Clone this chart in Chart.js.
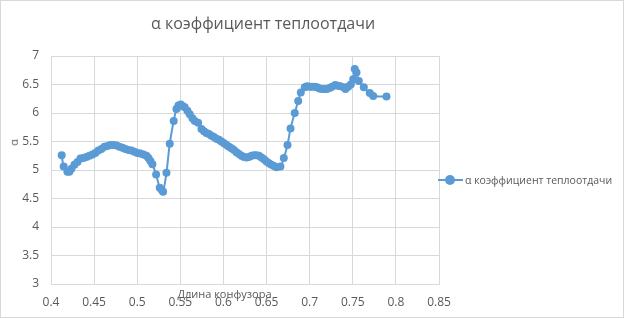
<!DOCTYPE html>
<html>
<head>
<meta charset="utf-8">
<script src="https://cdn.jsdelivr.net/npm/chart.js@4/dist/chart.umd.min.js"></script>
<style>
  html, body { margin: 0; padding: 0; background: #fff; }
  #wrap {
    position: relative; width: 624px; height: 318px;
    box-sizing: border-box; border: 1px solid #d9d9d9;
    font-family: "Open Sans", "Liberation Sans", sans-serif; color: #595959;
  }
  #chart { position: absolute; left: 0; top: 0; }
  .title { position: absolute; left: 150px; width: 205px; top: 11px; text-align: center; font-size: 16px; white-space: nowrap; }
  .xTitle { position: absolute; left: 161px; width: 125px; top: 285px; text-align: center; font-size: 11px; white-space: nowrap; }
  .yTitle { position: absolute; left: 9px; top: 134px; font-size: 11px; transform: rotate(-90deg); }
  .legend { position: absolute; left: 437px; top: 171px; font-size: 10.5px; white-space: nowrap; display: flex; align-items: center; }
  .legend .mark { position: relative; width: 25px; height: 16px; margin-right: 2px; }
  .legend .mark .ln { position: absolute; left: 0; right: 0; top: 7px; height: 2px; background: #5b9bd5; }
  .legend .mark .dot { position: absolute; left: 7px; top: 3px; width: 10px; height: 10px; border-radius: 50%; background: #5b9bd5; }
</style>
</head>
<body>
<div id="wrap">
  <canvas id="chart" width="622" height="316"></canvas>
  <div class="title">α коэффициент теплоотдачи</div>
  <div class="yTitle">α</div>
  <div class="xTitle">Длина конфузора</div>
  <div class="legend"><span class="mark"><span class="ln"></span><span class="dot"></span></span>α коэффициент теплоотдачи</div>
</div>
<script>
// длина конфузора
const lengths = [
  0.4124, 0.4147, 0.4190, 0.4213, 0.4237, 0.4272, 0.4307, 0.4341, 0.4376, 0.4411,
  0.4446, 0.4481, 0.4515, 0.4550, 0.4585, 0.4620, 0.4655, 0.4689, 0.4724, 0.4759,
  0.4794, 0.4829, 0.4863, 0.4898, 0.4933, 0.4968, 0.5002, 0.5037, 0.5072, 0.5107,
  0.5130, 0.5153, 0.5176, 0.5219, 0.5261, 0.5285, 0.5300, 0.5339, 0.5377, 0.5423,
  0.5455, 0.5478, 0.5505, 0.5530, 0.5551, 0.5582, 0.5609, 0.5640, 0.5667, 0.5706,
  0.5745, 0.5774, 0.5803, 0.5832, 0.5861, 0.5890, 0.5919, 0.5948, 0.5977, 0.6006,
  0.6035, 0.6064, 0.6093, 0.6122, 0.6151, 0.6180, 0.6209, 0.6238, 0.6267, 0.6296,
  0.6325, 0.6354, 0.6383, 0.6412, 0.6441, 0.6470, 0.6499, 0.6528, 0.6557, 0.6586,
  0.6615, 0.6661, 0.6700, 0.6743, 0.6778, 0.6827, 0.6867, 0.6897, 0.6943, 0.6969,
  0.7001, 0.7027, 0.7059, 0.7085, 0.7114, 0.7143, 0.7172, 0.7201, 0.7230, 0.7259,
  0.7297, 0.7326, 0.7356, 0.7395, 0.7415, 0.7447, 0.7477, 0.7505, 0.7523, 0.7543,
  0.7570, 0.7628, 0.7697, 0.7737, 0.7891
];
// α коэффициент теплоотдачи
const alpha = [
  5.26, 5.06, 4.97, 4.97, 5.02, 5.09, 5.14, 5.20, 5.21, 5.23,
  5.25, 5.27, 5.30, 5.34, 5.37, 5.41, 5.42, 5.44, 5.44, 5.43,
  5.41, 5.39, 5.37, 5.35, 5.34, 5.32, 5.30, 5.29, 5.27, 5.25,
  5.21, 5.16, 5.10, 4.92, 4.69, 4.65, 4.62, 4.95, 5.46, 5.86,
  6.07, 6.13, 6.15, 6.12, 6.10, 6.04, 5.98, 5.91, 5.86, 5.83,
  5.72, 5.68, 5.65, 5.63, 5.60, 5.58, 5.55, 5.53, 5.50, 5.47,
  5.44, 5.41, 5.38, 5.35, 5.31, 5.28, 5.25, 5.23, 5.22, 5.23,
  5.25, 5.26, 5.26, 5.25, 5.22, 5.19, 5.15, 5.12, 5.09, 5.07,
  5.05, 5.06, 5.21, 5.44, 5.73, 6.00, 6.21, 6.36, 6.45, 6.47,
  6.46, 6.46, 6.46, 6.45, 6.43, 6.42, 6.42, 6.42, 6.44, 6.46,
  6.49, 6.48, 6.47, 6.45, 6.42, 6.46, 6.50, 6.59, 6.77, 6.71,
  6.56, 6.45, 6.35, 6.30, 6.29
];
const xTicks = [0.4, 0.45, 0.5, 0.55, 0.6, 0.65, 0.7, 0.75, 0.8, 0.85];
const yTicks = [3, 3.5, 4, 4.5, 5, 5.5, 6, 6.5, 7];

const blue = "#5b9bd5";
const grid = "#d9d9d9";
const tickFont = { family: "'Open Sans', 'Liberation Sans', sans-serif", size: 12 };
const fmt = v => String(parseFloat(Number(v).toFixed(2)));

new Chart(document.getElementById("chart"), {
  type: "scatter",
  data: {
    datasets: [{
      label: "α коэффициент теплоотдачи",
      data: lengths.map((x, i) => ({ x, y: alpha[i] })),
      showLine: true,
      tension: 0.3,
      borderColor: blue,
      backgroundColor: blue,
      borderWidth: 2,
      pointRadius: 4,
      pointBorderWidth: 0,
    }],
  },
  options: {
    responsive: false,
    animation: false,
    layout: { padding: { top: 55, right: 184, left: 0, bottom: 0 } },
    plugins: { legend: { display: false }, title: { display: false }, tooltip: { enabled: false } },
    scales: {
      x: {
        type: "linear",
        min: xTicks[0],
        max: xTicks[xTicks.length - 1],
        afterBuildTicks: s => { s.ticks = xTicks.map(v => ({ value: v })); },
        afterFit: s => { s.height = 33; },
        ticks: { color: "#595959", font: tickFont, padding: 11, callback: fmt, maxRotation: 0 },
        grid: { color: grid, drawTicks: false },
        border: { color: grid },
      },
      y: {
        min: yTicks[0],
        max: yTicks[yTicks.length - 1],
        afterBuildTicks: s => { s.ticks = yTicks.map(v => ({ value: v })); },
        afterFit: s => { s.width = 50; },
        ticks: { color: "#595959", font: tickFont, padding: 12, callback: fmt },
        grid: { color: grid, drawTicks: false },
        border: { color: grid },
      },
    },
  },
});
</script>
</body>
</html>
